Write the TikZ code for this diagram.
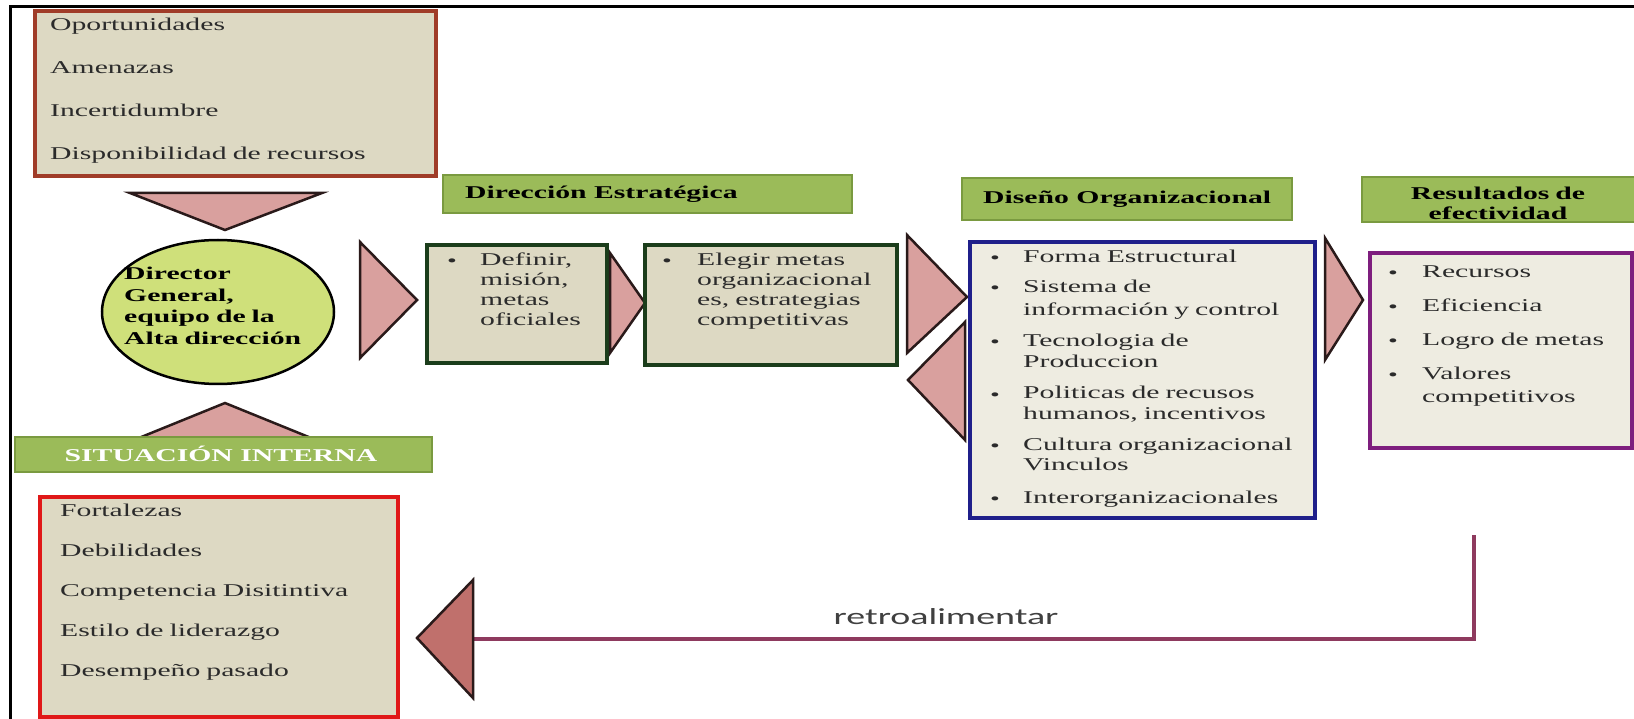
\documentclass[tikz,border=0pt]{standalone}
\usepackage{fontspec}
\setmainfont{Liberation Serif}[FakeStretch=1.65]
\newfontfamily\retrofont{Carlito}[FakeStretch=1.65]
\usetikzlibrary{shapes.geometric}
\definecolor{tripink}{HTML}{D9A09E}
\definecolor{fbpink}{HTML}{C0706C}
\definecolor{tridark}{HTML}{2A1A1A}
\definecolor{hdrgreen}{HTML}{9BBB59}
\definecolor{hdredge}{HTML}{7A9A40}
\definecolor{boxfill}{HTML}{DDD9C3}
\definecolor{boxfilltwo}{HTML}{EEECE1}
\definecolor{oportborder}{HTML}{A03C28}
\definecolor{fortborder}{HTML}{E01818}
\definecolor{defborder}{HTML}{1B3D1B}
\definecolor{blueborder}{HTML}{1F1F8A}
\definecolor{purpleborder}{HTML}{7E1E7E}
\definecolor{fbline}{HTML}{8E3A5E}
\definecolor{ellfill}{HTML}{CFE07A}
\definecolor{textgray}{HTML}{2B2B2B}
\tikzset{
  tri/.style={fill=tripink, draw=tridark, line width=2.5pt, line join=miter},
  box/.style={rectangle, inner sep=0pt, line width=3.5pt},
  hdr/.style={rectangle, inner sep=0pt, fill=hdrgreen, draw=hdredge, line width=1.2pt},
  txt/.style={inner sep=0pt, anchor=base west, text=textgray, align=left, font=\fontsize{18}{22}\selectfont},
  htxt/.style={inner sep=0pt, anchor=base west, text=black, font=\bfseries\fontsize{18}{20}\selectfont},
  bul/.style={inner sep=0pt, anchor=base, text=textgray, font=\fontsize{17}{17}\selectfont},
}
\begin{document}
\begin{tikzpicture}[x=1pt,y=-1pt]
\useasboundingbox (0,0) rectangle (1634,719);
\fill[white] (0,0) rectangle (1634,719);
% frame
\draw[line width=3pt] (10,719) -- (10,7) -- (1634,7);

% top box
\node[box, draw=oportborder, fill=boxfill, minimum width=401pt, minimum height=165pt] (oport) at (235.5,93.5) {};
\node[txt, text width=380pt, font=\fontsize{18}{43}\selectfont] (oportT) at (50,31)
  {Oportunidades\\Amenazas\\Incertidumbre\\Disponibilidad de recursos};

% triangles around ellipse
\draw[tri] (130,193) -- (322,193) -- (225,230) -- cycle;
\draw[tri] (129,442) -- (321,442) -- (225,403) -- cycle;

% ellipse
\node[ellipse, draw=black, line width=2.5pt, fill=ellfill, minimum width=232pt, minimum height=144pt, inner sep=0pt] (dir) at (218,312) {};
\node[htxt, text width=200pt, font=\bfseries\fontsize{18}{21.5}\selectfont] (dirT) at (124,280)
  {Director\\General,\\equipo de la\\Alta dirección};

% situacion interna header
\node[hdr, minimum width=417pt, minimum height=35pt] (sit) at (223.5,454.5) {};
\node[inner sep=0pt, anchor=base, text=white, font=\bfseries\fontsize{18}{20}\selectfont] (sitT) at (221,461) {SITUACIÓN INTERNA};

% bottom box
\node[box, draw=fortborder, fill=boxfill, minimum width=358pt, minimum height=220pt] (fort) at (219,607) {};
\node[txt, text width=330pt, font=\fontsize{18}{40}\selectfont] (fortT) at (60,516)
  {Fortalezas\\Debilidades\\Competencia Disitintiva\\Estilo de liderazgo\\Desempeño pasado};

% arrow to strategic direction
\draw[tri] (360,242) -- (360,358) -- (417,300) -- cycle;

% Direccion estrategica header
\node[hdr, minimum width=409pt, minimum height=38pt] (hde) at (647.5,194) {};
\node[htxt] (hdeT) at (465,199) {Dirección Estratégica};

% definir box
\node[box, draw=defborder, fill=boxfill, minimum width=180pt, minimum height=118pt] (def) at (517,304) {};
\node[bul] (defB) at (452,267) {\textbullet};
\node[txt, text width=120pt, font=\fontsize{18}{20}\selectfont] (defT) at (480,266)
  {Definir,\\misión,\\metas\\oficiales};

\draw[tri] (610,253) -- (610,353) -- (645,303) -- cycle;

% elegir box
\node[box, draw=defborder, fill=boxfill, minimum width=252pt, minimum height=120pt] (ele) at (771,305) {};
\node[bul] (eleB) at (667,267) {\textbullet};
\node[txt, text width=200pt, font=\fontsize{18}{20}\selectfont] (eleT) at (697,266)
  {Elegir metas\\organizacional\\es, estrategias\\competitivas};

% middle triangles
\draw[tri] (907,235) -- (907,353) -- (967,297) -- cycle;
\draw[tri] (965,322) -- (965,440) -- (908,380) -- cycle;

% Diseno organizacional header
\node[hdr, minimum width=330pt, minimum height=42pt] (hdo) at (1127,199) {};
\node[htxt] (hdoT) at (983,204) {Diseño Organizacional};

% blue box
\node[box, draw=blueborder, fill=boxfilltwo, minimum width=345pt, minimum height=276pt] (dis) at (1142.5,380) {};
\node[bul] (disB1) at (995,264) {\textbullet};
\node[txt, text width=280pt] (disT1) at (1023,263) {Forma Estructural};
\node[bul] (disB2) at (995,294) {\textbullet};
\node[txt, text width=280pt, font=\fontsize{18}{23}\selectfont] (disT2) at (1023,293) {Sistema de\\información y control};
\node[bul] (disB3) at (995,348) {\textbullet};
\node[txt, text width=280pt, font=\fontsize{18}{21}\selectfont] (disT3) at (1023,347) {Tecnologia de\\Produccion};
\node[bul] (disB4) at (995,400) {\textbullet};
\node[txt, text width=280pt, font=\fontsize{18}{21}\selectfont] (disT4) at (1023,399) {Politicas de recusos\\humanos, incentivos};
\node[bul] (disB5) at (995,451) {\textbullet};
\node[txt, text width=280pt, font=\fontsize{18}{20}\selectfont] (disT5) at (1023,450) {Cultura organizacional\\Vinculos};
\node[bul] (disB6) at (995,504) {\textbullet};
\node[txt, text width=280pt] (disT6) at (1023,503) {Interorganizacionales};

% arrow to results
\draw[tri] (1325,238) -- (1325,360) -- (1363,300) -- cycle;

% Resultados header
\node[hdr, minimum width=290pt, minimum height=45pt] (hre) at (1507,199.5) {};
\node[inner sep=0pt, anchor=base, text=black, align=center, text width=260pt, font=\bfseries\fontsize{18}{20}\selectfont] (hreT) at (1498,200)
  {Resultados de\\efectividad};

% purple box
\node[box, draw=purpleborder, fill=boxfilltwo, minimum width=262pt, minimum height=195pt] (res) at (1501,350.5) {};
\node[bul] (resB1) at (1393,279) {\textbullet};
\node[txt, text width=200pt] (resT1) at (1422,278) {Recursos};
\node[bul] (resB2) at (1393,313) {\textbullet};
\node[txt, text width=200pt] (resT2) at (1422,312) {Eficiencia};
\node[bul] (resB3) at (1393,347) {\textbullet};
\node[txt, text width=200pt] (resT3) at (1422,346) {Logro de metas};
\node[bul] (resB4) at (1393,381) {\textbullet};
\node[txt, text width=200pt, font=\fontsize{18}{23}\selectfont] (resT4) at (1422,380) {Valores\\competitivos};

% feedback
\coordinate (fbstart) at (1474,535);
\coordinate (fbend) at (470,639);
\draw[fbline, line width=4pt] (fbstart) |- (fbend);
\draw[tri, fill=fbpink] (473,580) -- (473,698) -- (417,638) -- cycle;
\node[inner sep=0pt, anchor=center, text=textgray!90!white, font=\retrofont\fontsize{23}{26}\selectfont] (fbT) at (946,617) {retroalimentar};
\end{tikzpicture}
\end{document}
